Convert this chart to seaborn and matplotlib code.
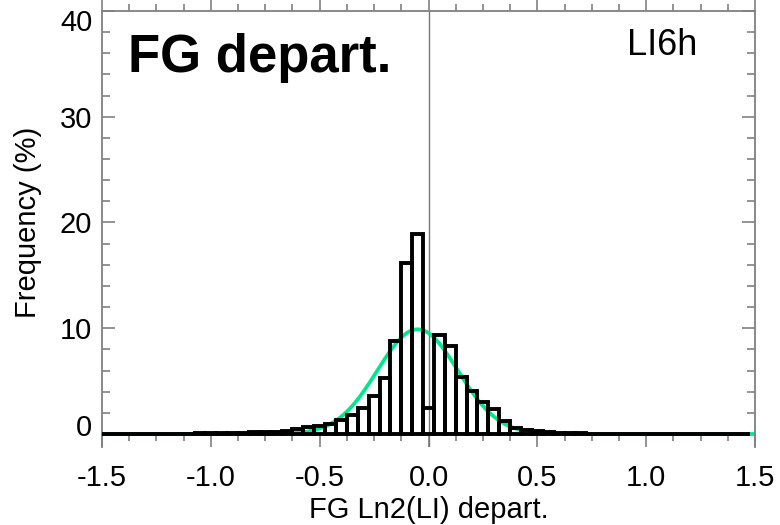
import numpy as np
import pandas as pd
import matplotlib
matplotlib.use("Agg")
import matplotlib.pyplot as plt
import matplotlib.transforms as mtransforms
from matplotlib.ticker import MultipleLocator, FixedLocator
import seaborn as sns

# ---- data ----
bin_centers = [round(-1.5 + 0.05 * i, 2) for i in range(60)]
frequency = [
    0.01, 0.01, 0.01, 0.01, 0.015, 0.02, 0.02, 0.03, 0.04, 0.05,
    0.06, 0.08, 0.10, 0.12, 0.15, 0.18, 0.22, 0.30, 0.44, 0.63,
    0.72, 0.95, 1.3, 1.8, 2.5, 3.6, 5.3, 8.75, 16.2, 18.9,
    2.5, 9.4, 8.3, 5.4, 4.1, 3.0, 2.35, 1.2, 0.6, 0.38,
    0.25, 0.18, 0.12, 0.08, 0.05, 0.04, 0.03, 0.02, 0.02, 0.015,
    0.01, 0.01, 0.01, 0.01, 0.01, 0.01, 0.01, 0.01, 0.01, 0.01,
]
fit_mean = -0.05
fit_sigma = 0.185
fit_peak = 9.9

x_ticks = [-1.5, -1.0, -0.5, 0.0, 0.5, 1.0, 1.5]
x_tick_labels = ["-1.5", "-1.0", "-0.5", "0.0", "0.5", "1.0", "1.5"]
y_ticks = [0, 10, 20, 30, 40]
y_tick_labels = ["0", "10", "20", "30", "40"]

title_text = "FG depart."
tag_text = "LI6h"
x_label = "FG Ln2(LI) depart."
y_label = "Frequency (%)"

# ---- styling ----
sns.set_style("white")
plt.rcParams["font.family"] = ["Liberation Sans", "DejaVu Sans"]
plt.rcParams["text.color"] = "black"
plt.rcParams["axes.labelcolor"] = "black"
plt.rcParams["xtick.labelcolor"] = "black"
plt.rcParams["ytick.labelcolor"] = "black"

W, H = 780, 525
fig = plt.figure(figsize=(W / 100, H / 100), dpi=100)
ax_left, ax_right, ax_top, ax_bot = 102, 755, 11, 447
ax = fig.add_axes([ax_left / W, 1 - ax_bot / H, (ax_right - ax_left) / W, (ax_bot - ax_top) / H])

bin_edges = [round(-1.525 + 0.05 * i, 3) for i in range(61)]
df = pd.DataFrame({"x": bin_centers, "w": frequency})

# Gaussian fit curve
xf = np.linspace(-1.5, 1.5, 601)
yf = fit_peak * np.exp(-0.5 * ((xf - fit_mean) / fit_sigma) ** 2)
sns.lineplot(x=xf, y=yf, color="#00E88C", linewidth=2.7, ax=ax, zorder=2)

# histogram outlines
sns.histplot(data=df, x="x", weights="w", bins=bin_edges, stat="count",
             fill=False, color="black", linewidth=2.8, ax=ax, zorder=3)

ax.axvline(0.0, color="#777777", linewidth=1.0, zorder=1)

ax.set_xlim(-1.5, 1.5)
ax.set_ylim(-1.23, 40)

spine_col = "#808080"
for s in ["left", "right", "top"]:
    ax.spines[s].set_color(spine_col)
    ax.spines[s].set_linewidth(1.3)
ax.spines["bottom"].set_position(("data", 0))
ax.spines["bottom"].set_visible(False)

ax.xaxis.set_major_locator(FixedLocator(x_ticks))
ax.set_xticklabels(x_tick_labels)
ax.xaxis.set_minor_locator(MultipleLocator(0.125))
ax.yaxis.set_major_locator(FixedLocator(y_ticks))
ax.set_yticklabels(["", "10", "20", "30", ""])
ax.yaxis.set_minor_locator(MultipleLocator(2))

ax.tick_params(axis="x", which="both", bottom=True, top=True, direction="out",
               color=spine_col, width=1.2, labelsize=21, pad=12, labelcolor="black")
ax.tick_params(axis="x", which="major", length=9.5)
ax.tick_params(axis="x", which="minor", length=5)
ax.tick_params(axis="y", which="both", left=True, right=True, direction="in",
               color=spine_col, width=1.2, labelsize=21, pad=7, labelcolor="black")
ax.tick_params(axis="y", which="major", length=9.5)
ax.tick_params(axis="y", which="minor", length=5.5)

# end labels of y axis, nudged inward as in reference
blend = mtransforms.blended_transform_factory(ax.transAxes, ax.transData)
pad_px = 7 / 72 * 100
off0 = mtransforms.ScaledTranslation(-pad_px / 100, 9 / 100, fig.dpi_scale_trans)
off40 = mtransforms.ScaledTranslation(-pad_px / 100, -9 / 100, fig.dpi_scale_trans)
ax.text(0, y_ticks[0], y_tick_labels[0], transform=blend + off0, ha="right",
        va="center_baseline", fontsize=21, color="black")
ax.text(0, y_ticks[-1], y_tick_labels[-1], transform=blend + off40, ha="right",
        va="center_baseline", fontsize=21, color="black")

ax.set_xlabel(x_label, fontsize=21, labelpad=3, color="black")
ax.set_ylabel(y_label, fontsize=21, color="black")
ax.yaxis.set_label_coords(-0.092, 0.515)

ax.text(0.04, 0.86, title_text, transform=ax.transAxes, fontsize=38,
        fontweight="bold", ha="left", va="baseline", color="black")
ax.text(0.804, 0.899, tag_text, transform=ax.transAxes, fontsize=26,
        ha="left", va="baseline", color="black")

fig.savefig("out.png", dpi=100)
